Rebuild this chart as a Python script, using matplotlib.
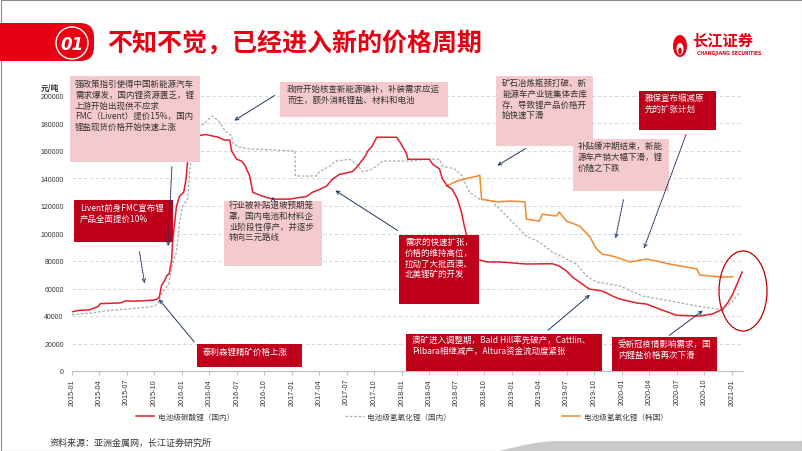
import matplotlib
matplotlib.use('Agg')
import matplotlib.pyplot as plt
import matplotlib.transforms as mtransforms
from matplotlib.patches import Rectangle, Ellipse, FancyBboxPatch, FancyArrowPatch, Polygon
import pandas as pd
import numpy as np

plt.rcParams['font.family'] = ['Noto Sans CJK SC', 'DejaVu Sans']

# ---------------- data ----------------
red_dates = ['2015-01-01', '2015-01-20', '2015-03-01', '2015-03-29', '2015-04-05', '2015-06-10',
             '2015-06-28', '2015-08-01', '2015-09-29', '2015-10-12', '2015-10-18', '2015-10-25',
             '2015-11-05', '2015-11-11', '2015-11-20', '2015-11-28', '2015-12-01', '2015-12-08',
             '2015-12-14', '2015-12-24', '2016-01-07', '2016-01-15', '2016-01-20', '2016-02-18',
             '2016-02-22', '2016-03-20', '2016-04-10', '2016-05-01', '2016-05-20', '2016-06-08',
             '2016-06-14', '2016-07-01', '2016-07-17', '2016-07-27', '2016-08-13', '2016-08-23',
             '2016-09-26', '2016-10-29', '2016-12-24', '2017-01-20', '2017-02-19', '2017-03-09',
             '2017-04-02', '2017-04-25', '2017-05-15', '2017-06-07', '2017-07-20', '2017-08-07',
             '2017-08-19', '2017-08-30', '2017-09-09', '2017-09-22', '2017-10-09', '2017-12-14',
             '2017-12-25', '2018-01-16', '2018-01-20', '2018-04-02', '2018-04-12', '2018-05-05',
             '2018-05-15', '2018-06-01', '2018-06-17', '2018-07-04', '2018-07-17', '2018-07-27',
             '2018-08-07', '2018-08-19', '2018-09-06', '2018-10-09', '2018-11-21', '2019-02-18',
             '2019-05-15', '2019-06-07', '2019-07-01', '2019-07-20', '2019-08-13', '2019-09-15',
             '2019-10-28', '2019-12-01', '2019-12-24', '2020-02-18', '2020-03-22', '2020-05-04',
             '2020-07-01', '2020-09-15', '2020-10-28', '2020-12-01', '2020-12-19', '2021-01-03',
             '2021-01-20', '2021-02-03']
red_vals = [43000, 44000, 44500, 47000, 49000, 49500,
            51000, 50800, 51500, 52500, 54000, 62000,
            66000, 69000, 71000, 81000, 94000, 108000,
            120000, 127000, 130000, 140000, 153000, 153000,
            171000, 172000, 171000, 170000, 168000, 168000,
            160000, 154000, 152700, 150000, 142000, 130000,
            127000, 125000, 125000, 126000, 127000, 130000,
            132000, 134500, 139500, 143000, 145000, 149000,
            152700, 155600, 160000, 163000, 170000, 170000,
            166500, 158000, 154000, 154000, 150500, 147000,
            139600, 134500, 132000, 125000, 115600, 105000,
            96000, 86500, 81400, 79300, 79300, 77800,
            78000, 76300, 72700, 68400, 64700, 59600,
            58200, 54500, 52400, 49500, 48700, 45100,
            40500, 40000, 41500, 45000, 50200, 56000,
            64700, 72000]

gray_dates = ['2015-01-01', '2015-03-01', '2015-05-01', '2015-07-01', '2015-10-01', '2015-10-12',
              '2015-10-28', '2015-11-18', '2015-11-28', '2015-12-14', '2015-12-24', '2016-01-03',
              '2016-01-20', '2016-01-27', '2016-02-10', '2016-02-28', '2016-03-20', '2016-04-10',
              '2016-05-01', '2016-05-14', '2016-05-25', '2016-06-14', '2016-06-20', '2016-07-10',
              '2016-08-13', '2016-10-10', '2017-01-10', '2017-01-12', '2017-03-22', '2017-04-02',
              '2017-05-05', '2017-05-28', '2017-07-10', '2017-08-03', '2017-08-23', '2017-09-15',
              '2017-10-09', '2017-10-28', '2018-01-27', '2018-03-22', '2018-05-05', '2018-05-15',
              '2018-06-24', '2018-07-20', '2018-08-03', '2018-08-13', '2018-09-16', '2018-10-28',
              '2018-12-01', '2019-01-04', '2019-02-18', '2019-04-02', '2019-05-15', '2019-07-01',
              '2019-08-03', '2019-09-06', '2019-10-09', '2019-12-24', '2020-03-10', '2020-06-07',
              '2020-09-06', '2020-11-12', '2020-12-14', '2021-01-03', '2021-01-27']
gray_vals = [41000, 42000, 44000, 45000, 47000, 49000,
             57500, 63000, 76000, 86500, 108000, 120000,
             125000, 145000, 174000, 177500, 181000, 185500,
             182000, 178000, 174000, 171000, 165000, 163000,
             161500, 161000, 160000, 141800, 141800, 145000,
             149000, 152700, 154000, 150500, 145000, 146000,
             149000, 152700, 152700, 154000, 154000, 149000,
             147000, 141800, 134500, 130000, 125000, 123000,
             115600, 108000, 98000, 93800, 86500, 81400,
             77800, 69000, 64700, 62000, 54500, 51000,
             47300, 45100, 47300, 51000, 57500]

kr_dates = ['2018-05-28', '2018-07-01', '2018-08-03', '2018-09-09', '2018-09-16', '2018-09-22',
            '2018-11-12', '2018-12-25', '2019-02-13', '2019-02-18', '2019-04-02', '2019-04-12',
            '2019-05-28', '2019-06-07', '2019-07-01', '2019-08-13', '2019-09-15', '2019-10-09',
            '2019-10-28', '2019-12-01', '2020-01-28', '2020-03-22', '2020-04-25', '2020-06-07',
            '2020-09-06', '2020-09-15', '2020-11-21', '2021-01-03']
kr_vals = [134500, 138000, 140000, 141800, 142500, 125000,
           123000, 123600, 123000, 110500, 109000, 114000,
           112700, 115600, 109000, 105500, 98000, 88700,
           85000, 83600, 79300, 81400, 80000, 77800,
           74200, 69800, 68400, 68500]

series_labels = ['电池级碳酸锂（国内）', '电池级氢氧化锂（国内）', '电池级氢氧化锂（韩国）']
y_ticks = list(range(0, 200001, 20000))
x_ticks = pd.date_range('2015-01-01', '2021-01-01', freq='QS')
y_unit = '元/吨'
title = '不知不觉，已经进入新的价格周期'
source = '资料来源：亚洲金属网，长江证券研究所'

note_texts = [
    '强政策指引使得中国新能源汽车\n需求爆发，国内锂资源匮乏，锂\n上游开始出现供不应求\nFMC（Livent）提价15%，国内\n锂盐现货价格开始快速上涨',
    'Livent前身FMC宣布锂\n产品全面提价10%',
    '泰利森锂精矿价格上涨',
    '政府开始核查新能源骗补，补装需求应运\n而生，额外消耗锂盐、材料和电池',
    '行业被补贴退坡预期笼\n罩，国内电池和材料企\n业阶段性停产，并逐步\n转向三元路线',
    '需求的快速扩张，\n价格的维持高位，\n拉动了大批西澳、\n北美锂矿的开发',
    '矿石冶炼瓶颈打破、新\n能源车产业链集体去库\n存，导致锂产品价格开\n始快速下滑',
    '补贴缓冲期结束，新能\n源车产销大幅下滑，锂\n价随之下跌',
    '雅保宣布缩减原\n先的扩张计划',
    '澳矿进入调整期，Bald Hill率先破产，Cattlin、\nPilbara相继减产，Altura资金流动度紧张',
    '受新冠疫情影响需求，国\n内锂盐价格再次下滑',
]

# ---------------- figure ----------------
W, H = 802, 452
fig = plt.figure(figsize=(W / 100, H / 100), dpi=100)
fig.patch.set_facecolor('white')
P = mtransforms.Affine2D().scale(1 / W, -1 / H).translate(0, 1) + fig.transFigure

RED_LINE = '#E0202A'
GRAY_LINE = '#A8A8A8'
ORANGE = '#F0892A'
PINK = '#F4CACC'
DARKRED = '#C0001A'
NAVY = '#1F3864'

ax = fig.add_axes([72 / W, 1 - 372 / H, (743 - 72) / W, (372 - 97) / H])
ax.plot(pd.to_datetime(gray_dates), gray_vals, color=GRAY_LINE, lw=0.9,
        linestyle=(0, (2, 1.5)), label=series_labels[1], zorder=3)
ax.plot(pd.to_datetime(kr_dates), kr_vals, color=ORANGE, lw=1.1, label=series_labels[2], zorder=4)
ax.plot(pd.to_datetime(red_dates), red_vals, color=RED_LINE, lw=1.1, label=series_labels[0], zorder=5)

ax.set_xlim(pd.Timestamp('2015-01-01'), pd.Timestamp('2021-02-06'))
ax.set_ylim(0, 200000)
ax.set_yticks(y_ticks)
ax.set_yticklabels([str(v) for v in y_ticks], fontsize=5, family='Liberation Sans', color='#333333')
ax.set_xticks(x_ticks)
ax.set_xticklabels([d.strftime('%Y-%m') for d in x_ticks], rotation=90, fontsize=5.2,
                   family='Liberation Sans', color='#333333')
ax.tick_params(axis='y', length=0, pad=6)
ax.tick_params(axis='x', length=3, color='#BFBFBF', pad=2)
for s in ['top', 'right', 'left']:
    ax.spines[s].set_visible(False)
ax.spines['bottom'].set_color('#BFBFBF')
ax.spines['bottom'].set_linewidth(0.8)
ax.grid(axis='y', color='#D0D0D0', linestyle=(0, (4, 3)), lw=0.6)
ax.set_axisbelow(True)
ax.patch.set_alpha(0)

fig.text(50, 88, y_unit, transform=P, fontsize=5.5, ha='center', va='center',
         color='#333333', fontweight='bold')

# legend
h, l = ax.get_legend_handles_labels()
order = [2, 0, 1]
leg = fig.legend([h[i] for i in order], [l[i] for i in order], loc='center',
                 bbox_to_anchor=(402 / W, 1 - 418 / H), ncol=3, frameon=False,
                 fontsize=5.5, handlelength=2.4, handletextpad=0.5, columnspacing=14.5)
for t in leg.get_texts():
    t.set_color('#444444')

# ---------------- decorations ----------------
fig.add_artist(Rectangle((0.5, 0.5), W - 1, H - 1, transform=P, fill=False,
                         edgecolor='#8C8C8C', lw=0.8, zorder=1))
xs = np.linspace(500, 560, 20)
ys = 452 - 10 * np.sin((xs - 500) / 60 * np.pi / 2)
poly = [(500, 452)] + list(zip(xs, ys)) + [(802, 442), (802, 452)]
fig.add_artist(Polygon(poly, closed=True, transform=P, facecolor='#C9C9C9', edgecolor='none', zorder=1))

# title tab
fig.add_artist(FancyBboxPatch((-30, 24), 124, 38, boxstyle='round,pad=0,rounding_size=14',
                              transform=P, facecolor='#E60012', edgecolor='none', zorder=2))
fig.add_artist(Ellipse((72, 44), 32, 32, transform=P, facecolor='none', edgecolor='white',
                       lw=1.0, zorder=3))
fig.text(72, 44.5, '01', transform=P, color='white', fontsize=12, fontstyle='italic',
         fontweight='bold', family='DejaVu Sans', ha='center', va='center', zorder=4)
fig.text(107, 44, title, transform=P, color='#E60012', fontsize=18, fontweight='bold',
         ha='left', va='center', zorder=4)

# logo
fig.add_artist(Ellipse((680, 47), 14, 22, transform=P, facecolor='#E60012', edgecolor='none', zorder=3))
fig.add_artist(Ellipse((680, 50), 7, 12, transform=P, facecolor='white', edgecolor='none', zorder=3))
fig.add_artist(Ellipse((680, 52), 3.5, 7, transform=P, facecolor='#E60012', edgecolor='none', zorder=3))
fig.text(723, 40, '长江证券', transform=P, color='#E60012', fontsize=11, fontweight='bold',
         ha='center', va='center', zorder=4)
fig.text(729, 53.5, 'CHANGJIANG SECURITIES', transform=P, color='#E60012', fontsize=3.3,
         fontweight='bold', family='DejaVu Sans', ha='center', va='center', zorder=4)

# red ellipse highlight
fig.add_artist(Ellipse((743, 292), 48, 80, transform=P, facecolor='none', edgecolor='#C00000',
                       lw=0.9, zorder=6))

# annotation boxes: (x0, y0, x1, y1, style, text_x, text_top)
boxes = [
    (70, 77, 200, 163, 'pink', 75, 80),
    (74, 201, 173, 243, 'red', 80, 204),
    (197, 345, 302, 368, 'red', 203, 348),
    (280, 83, 448, 118, 'pink', 287, 85),
    (224, 202, 322, 267, 'pink', 229, 201),
    (399, 236, 479, 305, 'red', 405, 238),
    (496, 77, 593, 147, 'pink', 502, 79),
    (573, 140, 669, 192, 'pink', 578, 142),
    (639, 92, 716, 131, 'red', 645, 94),
    (406, 335, 602, 372, 'red', 412, 336),
    (612, 338, 717, 372, 'red', 618, 340),
]
for (x0, y0, x1, y1, st, tx, ty), txt in zip(boxes, note_texts):
    fc = PINK if st == 'pink' else DARKRED
    tc = '#333333' if st == 'pink' else 'white'
    fig.add_artist(Rectangle((x0, y0), x1 - x0, y1 - y0, transform=P, facecolor=fc,
                             edgecolor='none', zorder=7))
    fig.text(tx, ty, txt, transform=P, color=tc, fontsize=6.1, ha='left', va='top',
             linespacing=1.25, zorder=8)

arrows = [
    ((172, 165), (168, 250), True),
    ((139, 250), (145, 287), True),
    ((196, 345), (157, 298), False),
    ((277, 95), (232, 123), False),
    ((273, 203), (273, 195), True),
    ((400, 233), (333, 190), False),
    ((528, 148), (495, 168), False),
    ((624, 198), (615, 242), True),
    ((687, 133), (643, 252), True),
    ((546, 333), (592, 294), False),
    ((667, 338), (705, 310), False),
]
for a, b, dashed in arrows:
    fig.add_artist(FancyArrowPatch(a, b, transform=P, arrowstyle='->', mutation_scale=6,
                                   lw=0.7, color=NAVY, linestyle=(0, (2, 1)) if dashed else '-',
                                   zorder=9))

fig.text(50, 443, source, transform=P, fontsize=6.5, color='#333333', ha='left', va='center')

fig.savefig('out.png', dpi=100, facecolor='white')
